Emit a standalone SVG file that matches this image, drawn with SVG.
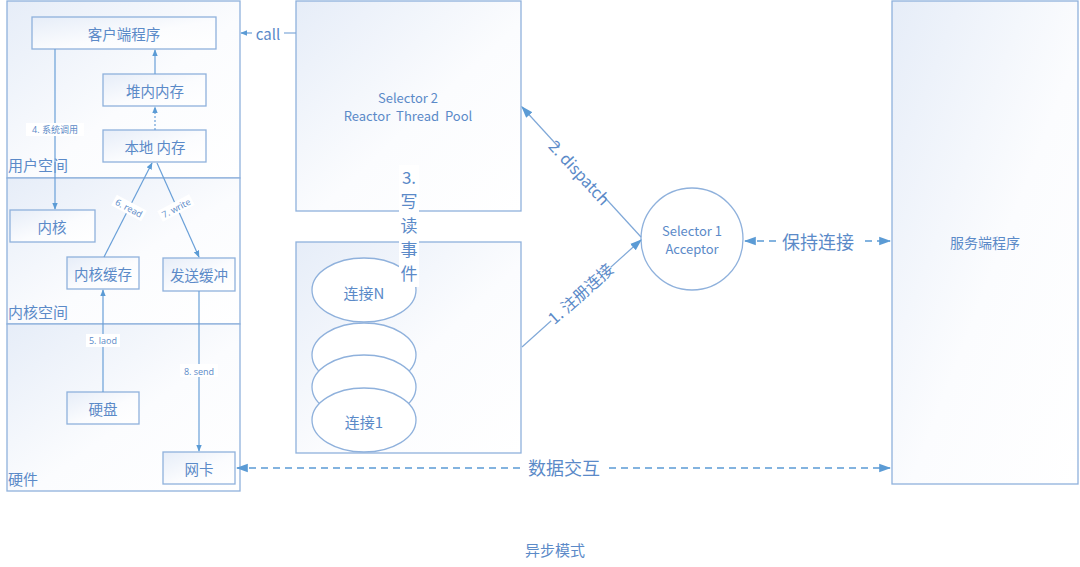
<svg xmlns="http://www.w3.org/2000/svg" width="1080" height="567" viewBox="0 0 1080 567">
<defs>
<linearGradient id="g" x1="0" y1="0" x2="1" y2="1">
<stop offset="0" stop-color="#e6edf8"/>
<stop offset="0.55" stop-color="#fbfcfe"/>
<stop offset="1" stop-color="#ffffff"/>
</linearGradient>
<marker id="a" viewBox="0 0 10 10" refX="9" refY="5" markerWidth="7" markerHeight="7" orient="auto-start-reverse" markerUnits="userSpaceOnUse">
<path d="M0,1 L10,5 L0,9 z" fill="#5b9bd5"/>
</marker>
<marker id="b" viewBox="0 0 10 10" refX="9" refY="5" markerWidth="12" markerHeight="12" orient="auto-start-reverse" markerUnits="userSpaceOnUse">
<path d="M0,1.5 L10,5 L0,8.5 z" fill="#5b9bd5"/>
</marker>
</defs>
<style>
.box{fill:url(#g);stroke:#8fb1dc;stroke-width:1.3}
.wb{fill:#ffffff;stroke:#8fb1dc;stroke-width:1.3}
.t{font-family:"Noto Sans CJK SC","Open Sans",sans-serif;fill:#5b8ac8;text-anchor:middle;dominant-baseline:central}
.l{font-family:"Noto Sans CJK SC","Open Sans",sans-serif;fill:#5b8ac8;dominant-baseline:central}
.s{font-family:"Open Sans","Noto Sans CJK SC",sans-serif;fill:#5b8ac8;text-anchor:middle;dominant-baseline:central;font-size:9px}
.ln{stroke:#7fa8d8;stroke-width:1.2;fill:none}
.ar{stroke:#6aa0d8;stroke-width:1.2;fill:none;marker-end:url(#a)}
.dash{stroke:#5b9bd5;stroke-width:1.6;fill:none;stroke-dasharray:7,5}
</style>

<g id="left-panel">
<rect class="box" x="7" y="1" width="233" height="177"/>
<rect class="box" x="7" y="178" width="233" height="146"/>
<rect class="box" x="7" y="324" width="233" height="167"/>
<text class="l" x="8" y="164" font-size="15">用户空间</text>
<text class="l" x="8" y="311" font-size="15">内核空间</text>
<text class="l" x="8" y="478" font-size="15">硬件</text>
</g>

<g id="client"><rect class="box" x="32" y="17" width="184" height="32"/><text class="t" x="124" y="33" font-size="14.5">客户端程序</text></g>
<g id="heap"><rect class="box" x="103" y="74" width="103" height="32"/><text class="t" x="155" y="90" font-size="14.5">堆内内存</text></g>
<g id="native"><rect class="box" x="103" y="130" width="103" height="32"/><text class="t" x="155" y="146" font-size="14.5">本地 内存</text></g>
<g id="kernel"><rect class="box" x="10" y="210" width="85" height="32"/><text class="t" x="52" y="226" font-size="14.5">内核</text></g>
<g id="kcache"><rect class="box" x="67" y="257" width="72" height="32"/><text class="t" x="103" y="273" font-size="14.5">内核缓存</text></g>
<g id="sendbuf"><rect class="box" x="163" y="258" width="72" height="33"/><text class="t" x="199" y="274" font-size="14.5">发送缓冲</text></g>
<g id="disk"><rect class="box" x="67" y="392" width="72" height="32"/><text class="t" x="103" y="408" font-size="14.5">硬盘</text></g>
<g id="nic"><rect class="box" x="163" y="452" width="72" height="32"/><text class="t" x="199" y="468" font-size="14.5">网卡</text></g>

<g id="selector2"><rect class="box" x="296" y="1" width="225" height="210"/>
<text class="t" x="408" y="97" font-size="13">Selector 2</text>
<text class="t" x="408" y="115" font-size="13" word-spacing="3">Reactor Thread Pool</text></g>

<g id="connections"><rect class="box" x="296" y="242" width="225" height="211"/>
<ellipse class="wb" cx="364" cy="290" rx="52" ry="32"/>
<text class="t" x="364" y="292" font-size="15">连接N</text>
<ellipse class="wb" cx="364" cy="355" rx="52" ry="32"/>
<ellipse class="wb" cx="364" cy="387" rx="52" ry="32"/>
<ellipse class="wb" cx="364" cy="420" rx="52" ry="32"/>
<text class="t" x="364" y="421" font-size="15">连接1</text></g>

<g id="selector1"><circle class="wb" cx="692" cy="239" r="51"/>
<text class="t" x="692" y="230" font-size="13">Selector 1</text>
<text class="t" x="692" y="248" font-size="13">Acceptor</text></g>

<g id="server"><rect class="box" x="892" y="1" width="186" height="483"/>
<text class="t" x="985" y="242" font-size="14">服务端程序</text></g>

<g id="connectors">
<line class="ar" x1="155" y1="74" x2="155" y2="50"/>
<line class="ar" x1="155" y1="130" x2="155" y2="107" stroke-dasharray="2,2"/>
<line class="ar" x1="55" y1="49" x2="55" y2="209"/>
<rect x="26" y="123" width="58" height="13" fill="#ffffff"/>
<text class="s" x="55" y="129">4. 系统调用</text>
<line class="ar" x1="104" y1="257" x2="152" y2="163"/>
<rect x="-17" y="-6" width="34" height="12" fill="#ffffff" transform="translate(129,208) rotate(28)"/>
<text class="s" transform="translate(129,208) rotate(28)" x="0" y="0">6. read</text>
<line class="ar" x1="157" y1="163" x2="199" y2="257"/>
<rect x="-18" y="-6" width="36" height="12" fill="#ffffff" transform="translate(176,208) rotate(-28)"/>
<text class="s" transform="translate(176,208) rotate(-28)" x="0" y="0">7. write</text>
<line class="ar" x1="103" y1="392" x2="103" y2="290"/>
<rect x="86" y="334" width="34" height="13" fill="#ffffff"/>
<text class="s" x="103" y="340">5. laod</text>
<line class="ar" x1="199" y1="291" x2="199" y2="451"/>
<rect x="180" y="364" width="38" height="13" fill="#ffffff"/>
<text class="s" x="199" y="371">8. send</text>

<line class="ln" x1="296" y1="33" x2="284" y2="33"/>
<line class="ar" x1="252" y1="33" x2="241" y2="33" marker-end="url(#b)"/>
<text class="t" x="268" y="33" font-size="15">call</text>

<line class="ln" x1="641" y1="237" x2="522" y2="107" marker-end="url(#b)"/>
<rect x="-32" y="-10" width="64" height="20" fill="#ffffff" transform="translate(580,172) rotate(47.5)"/>
<text class="t" transform="translate(580,172) rotate(47.5)" font-size="16">2. dispatch</text>

<line class="ln" x1="522" y1="347" x2="641" y2="240" marker-end="url(#b)"/>
<rect x="-40" y="-10" width="80" height="20" fill="#ffffff" transform="translate(580,293) rotate(-42)"/>
<text class="t" transform="translate(580,293) rotate(-42)" font-size="16">1. 注册连接</text>

<line class="dash" x1="745" y1="241" x2="890" y2="241" marker-start="url(#b)" marker-end="url(#b)"/>
<rect x="776" y="229" width="85" height="24" fill="#ffffff"/>
<text class="t" x="818" y="241" font-size="18">保持连接</text>

<line class="dash" x1="237" y1="468" x2="890" y2="468" marker-start="url(#b)" marker-end="url(#b)"/>
<rect x="522" y="456" width="84" height="24" fill="#ffffff"/>
<text class="t" x="564" y="467" font-size="18">数据交互</text>

<rect x="399" y="165" width="20" height="122" fill="#ffffff"/>
<text class="t" x="409" y="176" font-size="17">3.</text>
<text class="t" x="409" y="200" font-size="17">写</text>
<text class="t" x="409" y="224" font-size="17">读</text>
<text class="t" x="409" y="248" font-size="17">事</text>
<text class="t" x="409" y="272" font-size="17">件</text>
</g>

<text class="t" x="555" y="549" font-size="15" fill="#7fa8d8">异步模式</text>
</svg>
